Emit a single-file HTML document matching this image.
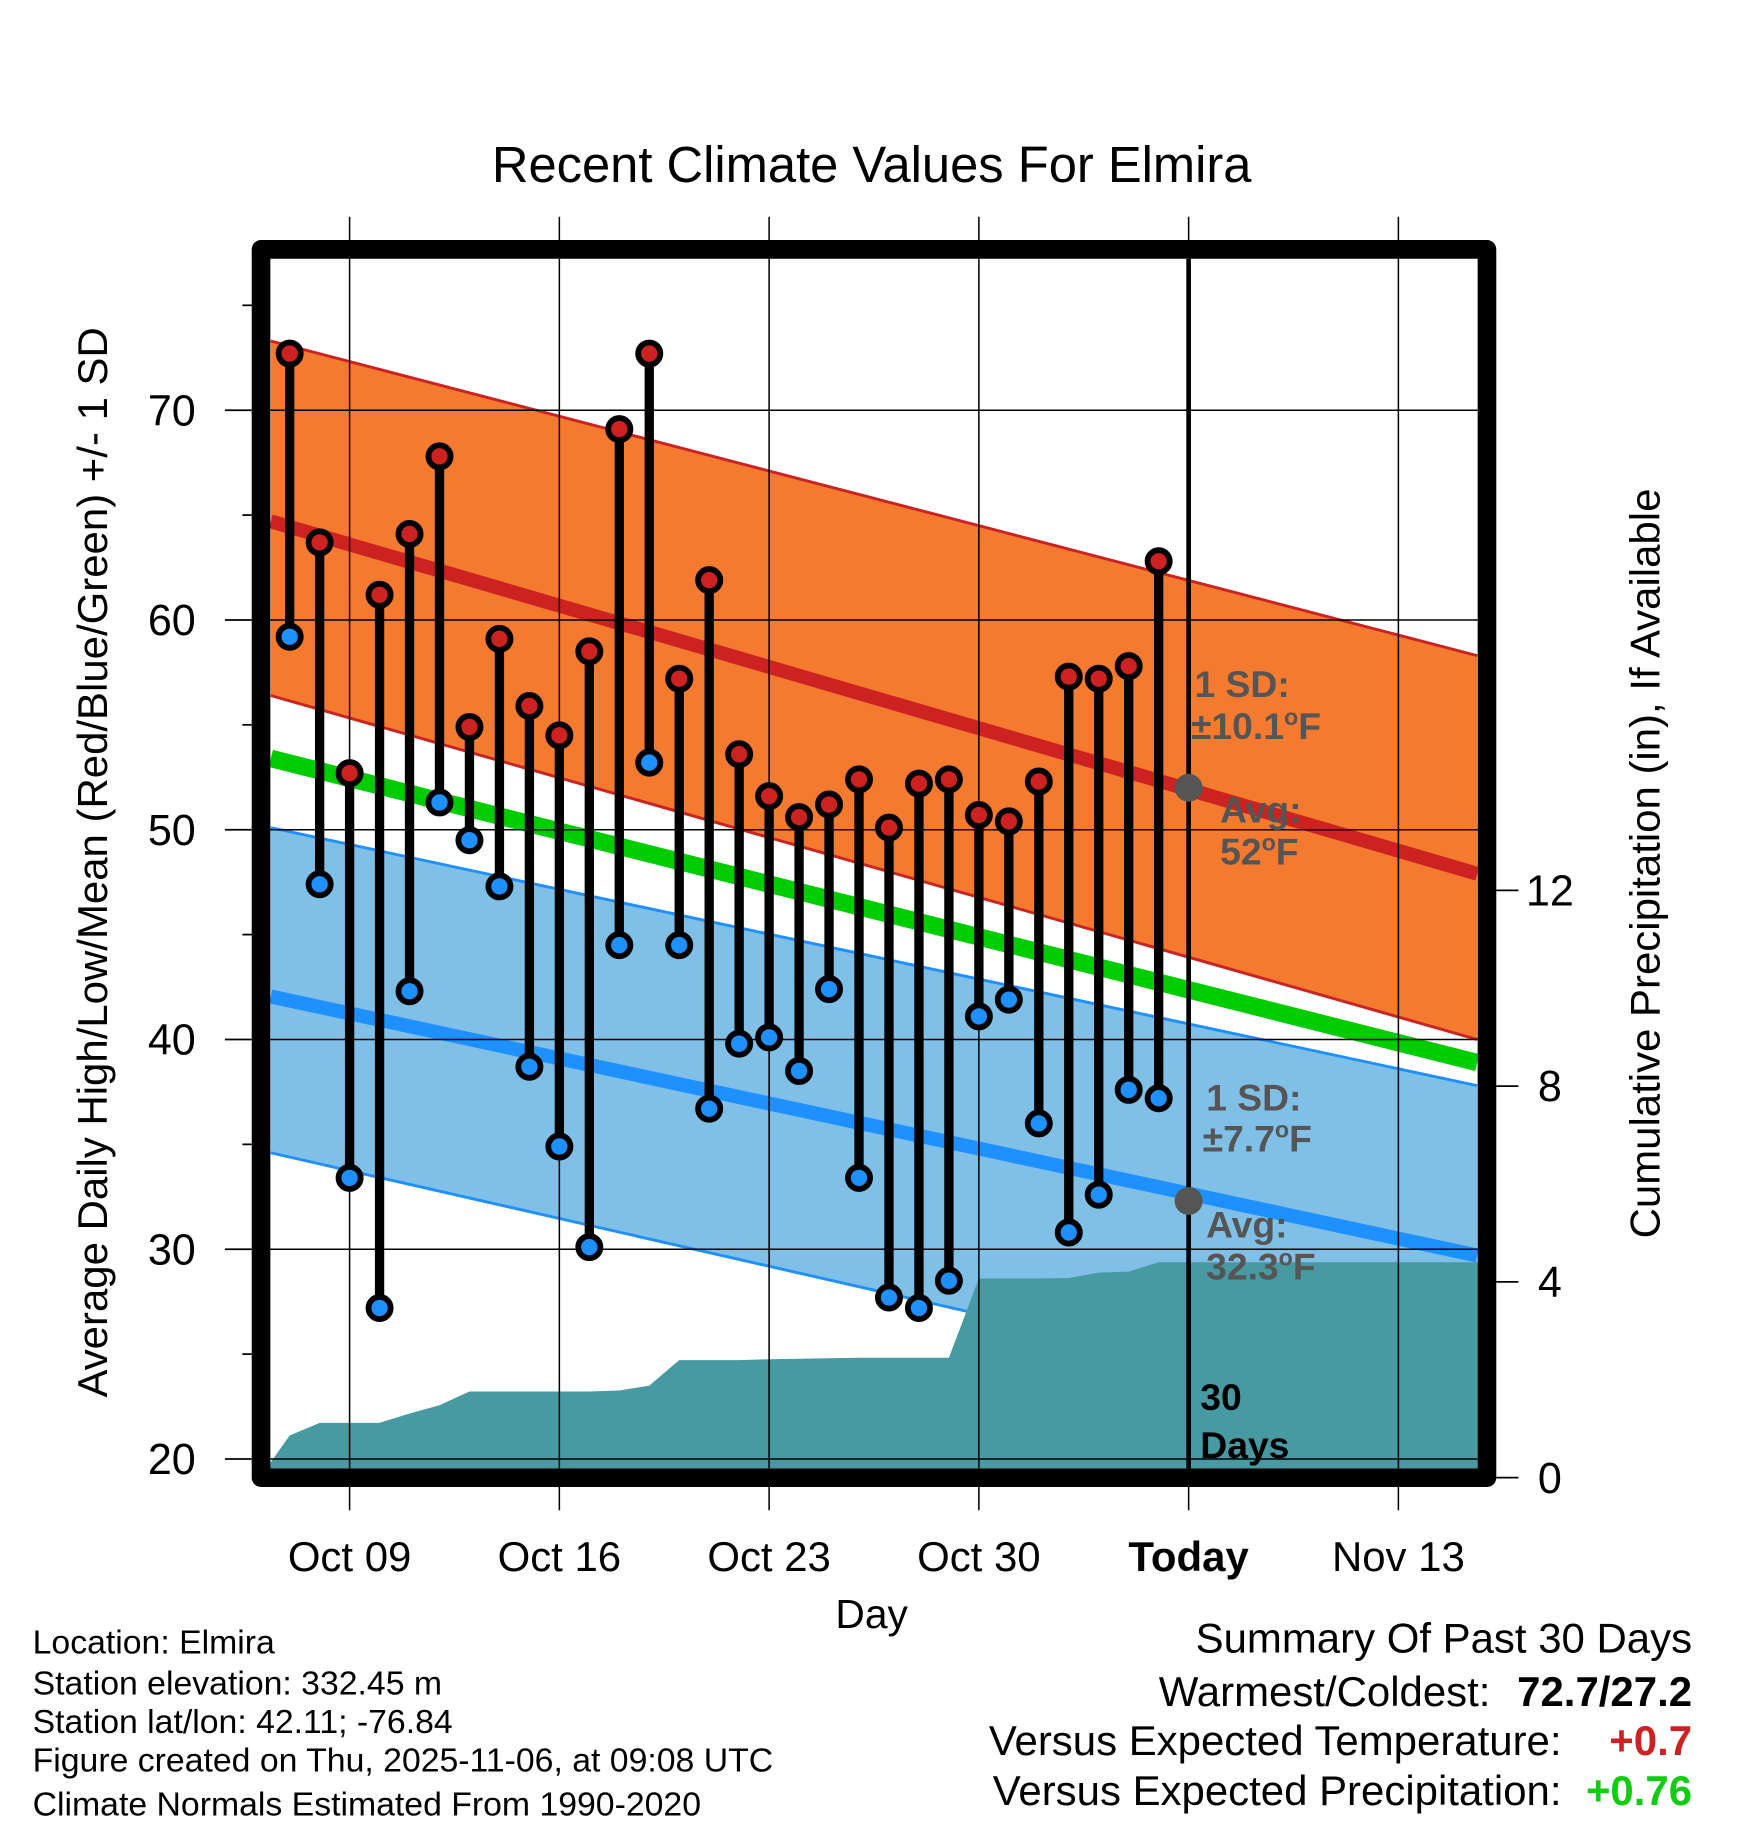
<!DOCTYPE html>
<html><head><meta charset="utf-8"><style>
html,body{margin:0;padding:0;background:#fff;}
svg{display:block;font-family:"Liberation Sans",Arial,sans-serif;}
</style></head><body>
<svg id="chart" width="1748" height="1828" viewBox="0 0 1500 1568.65" xmlns="http://www.w3.org/2000/svg">
<defs><clipPath id="plotclip"><rect x="231" y="222" width="1037" height="1038"/></clipPath></defs>
<text x="748" y="156" font-size="43.5" text-anchor="middle">Recent Climate Values For Elmira</text>
<g id="plot" clip-path="url(#plotclip)"></g>
<g id="over"></g>
<text transform="translate(92,740) rotate(-90)" font-size="36" text-anchor="middle">Average Daily High/Low/Mean (Red/Blue/Green) +/- 1 SD</text>
<text transform="translate(1424,741) rotate(-90)" font-size="36" text-anchor="middle">Cumulative Precipitation (in), If Available</text>
<text x="748" y="1397" font-size="35" text-anchor="middle">Day</text>
<g font-size="29">
<text x="28" y="1419">Location: Elmira</text>
<text x="28" y="1454">Station elevation: 332.45 m</text>
<text x="28" y="1487">Station lat/lon: 42.11; -76.84</text>
<text x="28" y="1520">Figure created on Thu, 2025-11-06, at 09:08 UTC</text>
<text x="28" y="1558">Climate Normals Estimated From 1990-2020</text>
</g>
<g font-size="36" text-anchor="end">
<text x="1452" y="1418">Summary Of Past 30 Days</text>
<text x="1279" y="1464">Warmest/Coldest:</text>
<text x="1452" y="1464" font-weight="bold">72.7/27.2</text>
<text x="1340" y="1506">Versus Expected Temperature:</text>
<text x="1452" y="1506" font-weight="bold" fill="#cc2222">+0.7</text>
<text x="1340" y="1549">Versus Expected Precipitation:</text>
<text x="1452" y="1549" font-weight="bold" fill="#11cc11">+0.76</text>
</g>
</svg>
<script>
// day offsets relative to Oct 09
const days = [-2,-1,0,1,2,3,4,5,6,7,8,9,10,11,12,13,14,15,16,17,18,19,20,21,22,23,24,25,26,27];
const highs = [72.7,63.7,52.7,61.2,64.1,67.8,54.9,59.1,55.9,54.5,58.5,69.1,72.7,57.2,61.9,53.6,51.6,50.6,51.2,52.4,50.1,52.2,52.4,50.7,50.4,52.3,57.3,57.2,57.8,62.8];
const lows = [59.2,47.4,33.4,27.2,42.3,51.3,49.5,47.3,38.7,34.9,30.1,44.5,53.2,44.5,36.7,39.8,40.1,38.5,42.4,33.4,27.7,27.2,28.5,41.1,41.9,36.0,30.8,32.6,37.6,37.2];
const precipDays = [-3,-2,-1,0,1,2,3,4,5,6,7,8,9,10,11,12,13,14,15,16,17,18,19,20,21,22,23,24,25,26,27,40];
const precip = [0,0.86,1.12,1.12,1.12,1.31,1.48,1.76,1.76,1.76,1.76,1.76,1.78,1.88,2.40,2.40,2.40,2.42,2.43,2.44,2.45,2.45,2.45,2.45,4.07,4.07,4.07,4.08,4.19,4.21,4.40,4.40];
const normalDays = [-2.63,37.63];
const highUpper = [73.3,58.3];
const highAvg = [64.7,47.9];
const highLower = [56.4,40.0];
const meanAvg = [53.4,38.9];
const lowUpper = [50.1,37.8];
const lowAvg = [42.05,29.7];
const lowLower = [34.6,21.5];
const yTicks = [20,30,40,50,60,70];
const yMinor = [25,35,45,55,65,75];
const y2Ticks = [0,4,8,12];
const xTickDays = [0,7,14,21,28,35];
const xTickLabels = ["Oct 09","Oct 16","Oct 23","Oct 30","Today","Nov 13"];

const X = d => 300 + d*25.714;
const Y = t => 352 + (70-t)*18;
const YP = p => 1268 - p*42.0;
const NS = "http://www.w3.org/2000/svg";
const plot = document.getElementById('plot');
const over = document.getElementById('over');
function mk(tag, parent, attrs){const e=document.createElementNS(NS,tag);for(const k in attrs)e.setAttribute(k,attrs[k]);parent.appendChild(e);return e;}
function band(up, lo){return `M${X(normalDays[0])},${Y(up[0])} L${X(normalDays[1])},${Y(up[1])} L${X(normalDays[1])},${Y(lo[1])} L${X(normalDays[0])},${Y(lo[0])} Z`;}
function line(v){return `M${X(normalDays[0])},${Y(v[0])} L${X(normalDays[1])},${Y(v[1])}`;}

let e;
e = mk('path',plot,{d:band(highUpper,highLower),fill:'#f47a30'});


e = mk('path',plot,{d:band(lowUpper,lowLower),fill:'#80bfe6'});


[highUpper,highLower].forEach(v=>{e=mk('path',plot,{d:line(v),stroke:'#cc2222','stroke-width':2.5,fill:'none'});

});
[lowUpper,lowLower].forEach(v=>{e=mk('path',plot,{d:line(v),stroke:'#1e90ff','stroke-width':2.5,fill:'none'});

});
e = mk('path',plot,{d:line(meanAvg),stroke:'#00cc00','stroke-width':15,fill:'none'});


e = mk('path',plot,{d:line(lowAvg),stroke:'#1e90ff','stroke-width':12,fill:'none'});


e = mk('path',plot,{d:line(highAvg),stroke:'#cc2222','stroke-width':12,fill:'none'});


let pd = `M${X(precipDays[0])},${YP(0)}`;
precipDays.forEach((d,i)=>{pd+=` L${X(d)},${YP(precip[i])}`;});
pd += ` L${X(precipDays[precipDays.length-1])},${YP(0)} Z`;
e = mk('path',plot,{d:pd,fill:'#4799a2'});


yTicks.forEach(t=>{e=mk('line',plot,{x1:231,x2:1268,y1:Y(t),y2:Y(t),stroke:'#000','stroke-width':1.3});

});
xTickDays.forEach(d=>{e=mk('line',plot,{x1:X(d),x2:X(d),y1:222,y2:1260,stroke:'#000','stroke-width':1.3});

});
e = mk('line',plot,{x1:X(28),x2:X(28),y1:222,y2:1260,stroke:'#000','stroke-width':4});


const ann = [['1 SD:',1025,598,'#555',''],['±10.1',1022,634,'#555','°F'],['Avg:',1047,706,'#555',''],['52',1047,742,'#555','°F'],
['1 SD:',1035,953,'#555',''],['±7.7',1032,988,'#555','°F'],['Avg:',1035,1062,'#555',''],['32.3',1035,1098,'#555','°F'],['30',1030,1210,'#000',''],['Days',1030,1251,'#000','']];
ann.forEach(a=>{e=mk('text',plot,{x:a[1],y:a[2],fill:a[3],'font-size':32,'font-weight':'bold'});e.textContent=a[0];
if(a[4]){const s=mk('tspan',e,{dy:-12,'font-size':20});s.textContent='o';const f=mk('tspan',e,{dy:12});f.textContent='F';}

});
[[28,52],[28,32.3]].forEach(p=>{e=mk('circle',plot,{cx:X(p[0]),cy:Y(p[1]),r:12,fill:'#555'});

});
days.forEach((d,i)=>{
 e=mk('line',plot,{x1:X(d),x2:X(d),y1:Y(highs[i]),y2:Y(lows[i]),stroke:'#000','stroke-width':8});
 
 
});
days.forEach((d,i)=>{
 e=mk('circle',plot,{cx:X(d),cy:Y(highs[i]),r:9.5,fill:'#cc2222',stroke:'#000','stroke-width':5});
 
 
 e=mk('circle',plot,{cx:X(d),cy:Y(lows[i]),r:9.5,fill:'#1e90ff',stroke:'#000','stroke-width':5});
 
 
});
e = mk('rect',over,{x:224,y:214,width:1052,height:1054,fill:'none',stroke:'#000','stroke-width':16,'stroke-linejoin':'round'});


yTicks.forEach(t=>{e=mk('line',over,{x1:193,x2:216,y1:Y(t),y2:Y(t),stroke:'#000','stroke-width':1.5});


e=mk('text',over,{x:168,y:Y(t)+13,'font-size':37,'text-anchor':'end'});e.textContent=t;

});
yMinor.forEach(t=>{e=mk('line',over,{x1:208,x2:216,y1:Y(t),y2:Y(t),stroke:'#000','stroke-width':1.5});

});
y2Ticks.forEach(p=>{e=mk('line',over,{x1:1284,x2:1303,y1:YP(p),y2:YP(p),stroke:'#000','stroke-width':1.5});


e=mk('text',over,{x:1330,y:YP(p)+13,'font-size':37,'text-anchor':'middle'});e.textContent=p;

});
xTickDays.forEach((d,i)=>{
 e=mk('line',over,{x1:X(d),x2:X(d),y1:186,y2:206,stroke:'#000','stroke-width':1.3});
 
 
 e=mk('line',over,{x1:X(d),x2:X(d),y1:1276,y2:1296,stroke:'#000','stroke-width':1.3});
 
 
 e=mk('text',over,{x:X(d),y:1348,'font-size':36,'text-anchor':'middle'});e.textContent=xTickLabels[i];
 if(xTickLabels[i]==='Today') e.setAttribute('font-weight','bold');
 
 
});
</script>
</body></html>
